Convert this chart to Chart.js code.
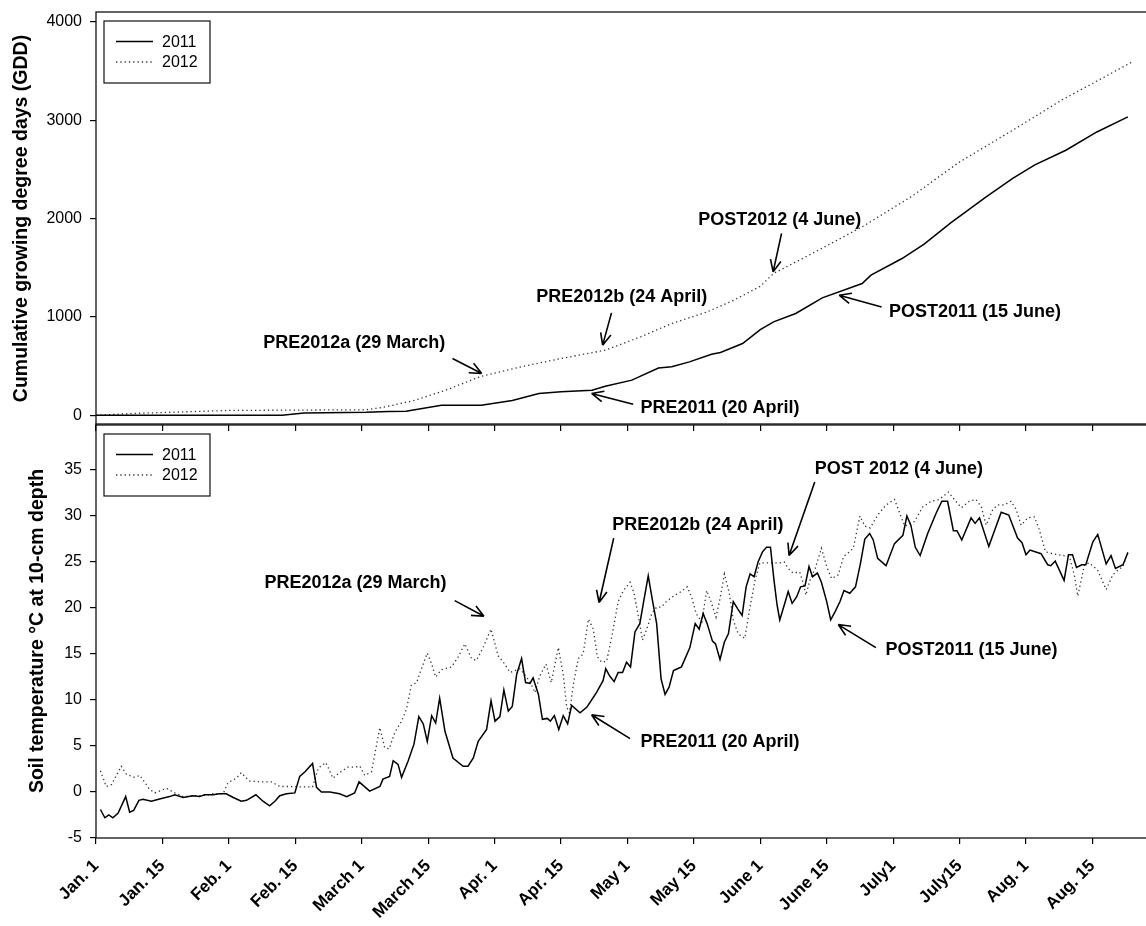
<!DOCTYPE html>
<html>
<head>
<meta charset="utf-8">
<title>Cumulative GDD and soil temperature, 2011 vs 2012</title>
<script src="https://cdn.jsdelivr.net/npm/chart.js@4.4.1/dist/chart.umd.min.js"></script>
<style>
  html, body { margin: 0; padding: 0; background: #fff; overflow: hidden; }
  #wrap { position: relative; width: 1146px; height: 926px; overflow: hidden; }
  canvas { position: absolute; left: 0; top: 0; }
</style>
</head>
<body>
<div id="wrap">
  <canvas id="soil" width="1170" height="926"></canvas>
  <canvas id="gdd" width="1170" height="926"></canvas>
</div>
<script>
// x = day of year (Jan 1 = 0), axis ticks every 15 days
const tickDays = [0, 15, 30, 45, 60, 75, 90, 105, 120, 135, 150, 165, 180, 195, 210, 225];
const tickLabels = ["Jan. 1", "Jan. 15", "Feb. 1", "Feb. 15", "March 1", "March 15", "Apr. 1", "Apr. 15",
  "May 1", "May 15", "June 1", "June 15", "July1", "July15", "Aug. 1", "Aug. 15"];

// cumulative growing degree days
const gdd2011Days = [0, 42, 47, 61, 66, 70, 78, 87, 94, 100, 105, 112, 115, 121, 127, 130, 134, 139, 141, 146,
  150, 153, 158, 164, 173, 175, 182, 187, 193, 201, 207, 212, 219, 226, 233];
const gdd2011 = [0, 0, 22, 30, 38, 40, 100, 102, 150, 220, 237, 254, 295, 356, 480, 492, 542, 620, 637, 729,
  870, 949, 1034, 1193, 1339, 1424, 1593, 1739, 1956, 2220, 2407, 2545, 2694, 2880, 3033];
const gdd2012Days = [0, 10, 30, 61, 64, 67, 72, 79, 87, 96, 105, 115, 123, 130, 138, 144, 150, 153, 161, 173,
  184, 195, 207, 218, 225, 234];
const gdd2012 = [0, 20, 48, 55, 74, 100, 152, 254, 396, 492, 576, 661, 797, 932, 1050, 1169, 1310, 1441, 1627, 1915,
  2220, 2575, 2898, 3203, 3373, 3593];

// soil temperature at 10 cm, deg C
const soil2011Days = [1.0, 2.0, 2.9, 3.8, 5.0, 6.7, 7.6, 8.5, 9.7, 10.6, 12.5, 14.8, 16.6, 17.8, 19.7, 21.9, 23.4, 24.5,
  26.4, 27.9, 29.4, 31.0, 32.8, 34.0, 36.1, 37.7, 39.2, 40.4, 41.5, 43.0, 44.9, 46.0, 47.2, 48.9, 49.8, 50.9, 52.8,
  55.0, 56.6, 58.4, 59.4, 61.8, 64.1, 64.8, 66.3, 67.1, 68.2, 69.0, 70.5, 71.8, 72.9, 73.9, 74.8, 75.8, 76.7, 77.6,
  78.8, 80.6, 82.9, 84.0, 85.2, 86.3, 88.2, 89.2, 90.1, 91.2, 92.1, 93.1, 94.0, 95.0, 96.1, 97.0, 98.0, 98.7, 99.9,
  100.8, 101.9, 102.6, 103.5, 104.5, 105.5, 106.5, 107.4, 109.3, 110.8, 111.5, 113.0, 114.5, 115.1, 116.0, 117.0,
  117.9, 118.9, 119.8, 120.7, 121.7, 122.8, 123.7, 124.7, 125.7, 126.6, 127.6, 128.5, 129.4, 130.4, 131.3, 132.2,
  134.1, 135.3, 136.2, 137.1, 138.0, 139.2, 139.9, 140.9, 141.9, 142.8, 143.9, 144.9, 145.9, 146.8, 147.7, 148.6,
  149.5, 150.5, 151.4, 152.3, 153.1, 153.8, 154.4, 155.4, 156.3, 157.2, 158.2, 159.1, 160.1, 161.0, 161.8, 162.9,
  163.8, 165.0, 165.9, 166.9, 168.0, 168.9, 170.2, 171.5, 172.6, 173.6, 174.7, 175.5, 176.5, 178.4, 180.3, 182.2,
  183.1, 184.0, 185.0, 186.1, 187.8, 189.7, 191.0, 192.3, 193.6, 194.4, 195.5, 197.6, 198.5, 199.5, 201.6, 204.4,
  206.1, 208.1, 209.1, 210.0, 210.9, 213.4, 214.9, 215.6, 216.6, 218.6, 219.6, 220.5, 221.4, 222.6, 223.5, 225.1,
  226.2, 228.1, 229.2, 230.2, 231.9, 233.0];
const soil2011 = [-1.9, -2.8, -2.5, -2.8, -2.3, -0.5, -2.2, -2.0, -0.9, -0.8, -1.0, -0.7, -0.5, -0.3, -0.6, -0.4, -0.5, -0.3,
  -0.3, -0.2, -0.2, -0.6, -1.0, -0.9, -0.3, -1.0, -1.5, -1.0, -0.4, -0.2, -0.1, 1.7, 2.2, 3.1, 0.5, 0.0, 0.0,
  -0.2, -0.5, -0.1, 1.1, 0.1, 0.6, 1.4, 1.7, 3.4, 3.0, 1.6, 3.4, 5.2, 8.2, 7.4, 5.5, 8.3, 7.5, 10.2,
  6.6, 3.7, 2.8, 2.8, 3.7, 5.5, 6.8, 9.9, 7.7, 8.2, 11.1, 8.8, 9.3, 12.8, 14.5, 11.9, 11.8, 12.4, 10.6,
  7.9, 8.0, 7.7, 8.3, 6.8, 8.3, 7.4, 9.4, 8.6, 9.2, 9.7, 10.8, 12.1, 13.4, 12.6, 12.0,
  13.0, 13.0, 14.1, 13.6, 17.4, 18.3, 20.8, 23.5, 20.7, 18.3, 12.3, 10.6, 11.4, 13.2, 13.4, 13.6,
  15.7, 18.3, 17.7, 19.4, 18.3, 16.4, 16.1, 14.4, 16.3, 17.2, 20.7, 19.9, 19.2, 22.3, 23.7, 23.4,
  25.0, 26.1, 26.6, 26.6, 23.0, 20.3, 18.7, 20.3, 21.8, 20.5, 21.2, 22.3, 22.4, 24.5, 23.4, 23.8,
  22.8, 20.7, 18.7, 19.6, 20.7, 21.9, 21.6, 22.3, 24.8, 27.5, 28.1, 27.4, 25.4, 24.6, 27.0, 27.9,
  30.0, 29.0, 26.6, 25.7, 28.1, 30.3, 31.6, 31.6, 28.4, 28.4, 27.4, 29.8, 29.2, 29.8, 26.7, 30.4,
  30.1, 27.6, 27.1, 25.8, 26.3, 25.9, 24.7, 24.6, 25.1, 23.0, 25.8, 25.8, 24.4, 24.7, 24.7, 27.2,
  28.0, 24.8, 25.7, 24.3, 24.7, 26.0];

const soil2012Days = [1.0, 2.3, 3.5, 5.7, 6.9, 8.7, 9.9, 12.1, 13.3, 15.9, 17.8, 19.7, 21.9, 24.2, 26.4, 28.7, 29.8,
  31.7, 32.8, 34.6, 37.0, 39.6, 41.5, 43.7, 46.8, 48.9, 50.2, 51.9, 53.5, 55.0, 56.8, 58.5, 59.6, 60.7, 62.2, 64.1,
  65.2, 66.2, 67.5, 69.0, 70.1, 71.2, 72.4, 73.5, 74.8, 75.8, 76.7, 78.0, 80.3, 81.8, 83.3, 84.8, 85.9, 87.4, 89.2,
  90.8, 92.3, 93.5, 95.7, 97.2, 98.3, 99.1, 100.2, 101.6, 102.8, 104.4, 105.5, 106.3, 106.9, 107.8, 108.9, 110.0,
  111.2, 112.3, 113.2, 114.2, 115.3, 116.6, 117.9, 119.1, 120.6, 121.5, 122.5, 123.4, 124.3, 125.5, 126.6, 127.7,
  128.8, 130.4, 132.2, 133.5, 134.5, 135.5, 136.8, 137.9, 138.8, 140.0, 140.9, 141.9, 143.0, 143.9, 145.0, 146.5,
  147.5, 148.8, 149.9, 151.4, 152.9, 154.4, 155.4, 156.3, 157.4, 158.9, 159.7, 160.3, 161.2, 162.4, 163.8, 165.0,
  166.1, 167.6, 168.8, 170.1, 171.0, 172.5, 173.6, 174.8, 176.5, 178.4, 180.3, 182.6, 184.8, 186.7, 188.6, 190.4,
  192.5, 193.8, 195.4, 197.2, 198.7, 199.9, 201.0, 202.5, 203.6, 205.1, 206.6, 207.8, 208.9, 210.4, 211.9, 213.0,
  214.4, 216.0, 218.3, 219.8, 220.9, 221.7, 223.2, 224.3, 226.2, 228.1, 229.6, 230.7, 231.9, 233.0];
const soil2012 = [2.3, 0.6, 0.8, 2.8, 1.9, 1.6, 1.8, 0.3, -0.1, 0.4, -0.1, -0.5, -0.4, -0.4, -0.2, -0.2, 1.0,
  1.5, 2.1, 1.2, 1.1, 1.1, 0.6, 0.6, 0.55, 0.55, 2.6, 3.2, 1.5, 2.1, 2.7, 2.7, 2.8, 1.8, 2.2, 7.0,
  4.8, 4.7, 6.5, 7.7, 9.0, 11.6, 11.9, 13.4, 15.1, 13.9, 12.5, 13.3, 13.6, 14.7, 16.1, 14.5, 14.3, 15.7, 17.7,
  14.8, 13.9, 13.0, 13.4, 12.5, 11.7, 10.8, 12.6, 13.9, 11.9, 15.7, 12.8, 9.2, 8.6, 11.7, 14.5, 15.0,
  18.8, 17.7, 14.7, 14.1, 14.2, 17.2, 20.7, 21.9, 22.8, 21.6, 19.0, 16.5, 17.6, 19.4, 20.1, 20.1,
  20.7, 21.3, 21.8, 22.3, 21.2, 19.4, 18.5, 21.9, 20.8, 19.0, 21.0, 23.7, 21.6, 18.7, 17.2, 16.7,
  19.6, 23.0, 24.9, 24.9, 24.9, 24.9, 25.0, 24.3, 23.8, 23.9, 22.7, 21.4, 23.0, 24.3, 26.5, 24.5,
  23.2, 23.6, 25.6, 26.1, 26.5, 30.0, 28.9, 28.7, 30.1, 31.2, 31.8, 28.9, 29.4, 31.0, 31.6, 31.8,
  32.6, 31.8, 30.9, 31.6, 31.8, 31.0, 29.0, 30.7, 31.2, 31.2, 31.6, 30.7, 29.0, 29.8, 29.9, 28.5,
  26.1, 25.9, 25.7, 25.6, 23.6, 21.3, 24.7, 24.9, 24.1, 22.0, 23.6, 24.1, 24.5, 26.1];

// planting-date labels: text centre and arrow tail/head, in data units
const gddNotes = [
  { text: "PRE2012a (29 March)", at: [58.3, 732], from: [80.5, 577], to: [87.1, 424] },
  { text: "PRE2012b (24 April)", at: [118.7, 1200], from: [116.4, 1040], to: [114.4, 712] },
  { text: "POST2012 (4 June)", at: [154.4, 1983], from: [154.8, 1848], to: [152.9, 1457] },
  { text: "POST2011 (15 June)", at: [198.5, 1044], from: [177.4, 1101], to: [167.8, 1220] },
  { text: "PRE2011 (20 April)", at: [140.9, 68], from: [121.3, 112], to: [111.9, 221] },
];
const soilNotes = [
  { text: "PRE2012a (29 March)", at: [58.6, 22.7], from: [81.0, 20.8], to: [87.6, 19.1] },
  { text: "PRE2012b (24 April)", at: [135.9, 29.0], from: [116.9, 27.6], to: [113.6, 20.6] },
  { text: "POST 2012 (4 June)", at: [181.3, 35.1], from: [162.3, 33.7], to: [156.5, 25.7] },
  { text: "POST2011 (15 June)", at: [197.7, 15.4], from: [176.1, 15.7], to: [167.6, 18.2] },
  { text: "PRE2011 (20 April)", at: [140.9, 5.4], from: [120.6, 5.8], to: [111.9, 8.4] },
];

const FONT = '"Liberation Sans", Arial, Helvetica, sans-serif';
const pts = (days, vals) => days.map((d, i) => ({ x: d, y: vals[i] }));

const series = (a, b) => [
  { label: "2011", data: a, borderColor: "#000", borderWidth: 1.5, pointRadius: 0, tension: 0, fill: false },
  { label: "2012", data: b, borderColor: "#333", borderWidth: 1.3, borderDash: [1.3, 3], pointRadius: 0, tension: 0, fill: false },
];

// box round the plot area
const frame = {
  id: "frame",
  afterDatasetsDraw(chart) {
    const a = chart.chartArea, c = chart.ctx;
    c.save();
    c.strokeStyle = "#111";
    c.lineWidth = 1.3;
    c.strokeRect(a.left, a.top, a.right - a.left, a.bottom - a.top);
    c.restore();
  },
};

// boxed legend in the top-left corner
function boxLegend(dy) {
  return {
    id: "boxLegend",
    afterDraw(chart) {
      const a = chart.chartArea, c = chart.ctx;
      const x = a.left + 8, y = a.top + dy;
      c.save();
      c.strokeStyle = "#111";
      c.lineWidth = 1.2;
      c.strokeRect(x, y, 106, 62);
      chart.data.datasets.forEach((ds, i) => {
        const ly = y + 20.5 + i * 20.5;
        c.beginPath();
        c.setLineDash(ds.borderDash || []);
        c.strokeStyle = ds.borderColor;
        c.lineWidth = ds.borderWidth;
        c.moveTo(x + 12, ly);
        c.lineTo(x + 49, ly);
        c.stroke();
        c.setLineDash([]);
        c.fillStyle = "#000";
        c.font = "16px " + FONT;
        c.textAlign = "left";
        c.textBaseline = "middle";
        c.fillText(ds.label, x + 58, ly + 1);
      });
      c.restore();
    },
  };
}

// text labels with open arrows
function notesPlugin(notes) {
  return {
    id: "notes",
    afterDatasetsDraw(chart) {
      const xs = chart.scales.x, ys = chart.scales.y, c = chart.ctx;
      const px = (p) => [xs.getPixelForValue(p[0]), ys.getPixelForValue(p[1])];
      c.save();
      c.fillStyle = "#000";
      c.strokeStyle = "#000";
      c.lineWidth = 1.6;
      c.font = "bold 18px " + FONT;
      c.textAlign = "center";
      c.textBaseline = "middle";
      notes.forEach((n) => {
        const [tx, ty] = px(n.at);
        c.fillText(n.text, tx, ty);
        const [x0, y0] = px(n.from), [x1, y1] = px(n.to);
        const ang = Math.atan2(y1 - y0, x1 - x0);
        c.beginPath();
        c.moveTo(x0, y0);
        c.lineTo(x1, y1);
        for (const s of [-1, 1]) {
          c.moveTo(x1, y1);
          c.lineTo(x1 - 13 * Math.cos(ang + s * 0.42), y1 - 13 * Math.sin(ang + s * 0.42));
        }
        c.stroke();
      });
      c.restore();
    },
  };
}

const axisGrid = { drawOnChartArea: false, drawTicks: true, tickLength: 6, color: "#000", lineWidth: 1.2 };

function xAxis(showLabels, height) {
  return {
    type: "linear",
    min: 0,
    max: 238,
    afterBuildTicks: (s) => { s.ticks = tickDays.map((v) => ({ value: v })); },
    afterFit: (s) => { s.height = height; s.paddingLeft = 0; s.paddingRight = 0; },
    border: { display: false },
    grid: axisGrid,
    ticks: {
      autoSkip: false,
      minRotation: showLabels ? 45 : 0,
      maxRotation: showLabels ? 45 : 0,
      padding: 12,
      color: "#000",
      font: { family: FONT, size: 17, weight: "bold" },
      callback: (v, i) => (showLabels ? tickLabels[i] : ""),
    },
  };
}

function yAxis(min, max, ticks, title, titlePad) {
  return {
    type: "linear",
    min,
    max,
    afterBuildTicks: (s) => { s.ticks = ticks.map((v) => ({ value: v })); },
    // fixed axis width, and no extra room reserved above/below for the end labels
    afterFit: (s) => { s.width = 96; s.paddingTop = 0; s.paddingBottom = 0; },
    border: { display: false },
    grid: axisGrid,
    ticks: { color: "#000", padding: 8, font: { family: FONT, size: 16 }, callback: (v) => String(v) },
    title: {
      display: true,
      text: title,
      color: "#000",
      padding: { top: titlePad, bottom: 0 },
      font: { family: FONT, size: 19.5, weight: "bold" },
    },
  };
}

const common = {
  responsive: false,
  animation: false,
  devicePixelRatio: 1,
  plugins: { legend: { display: false }, tooltip: { enabled: false } },
};

new Chart(document.getElementById("gdd"), {
  type: "line",
  data: { datasets: series(pts(gdd2011Days, gdd2011), pts(gdd2012Days, gdd2012)) },
  options: {
    ...common,
    layout: { autoPadding: false, padding: { left: 0, right: 20, top: 12, bottom: 926 - 425 - 10 } },
    scales: {
      x: xAxis(false, 10),
      y: yAxis(-100, 4100, [0, 1000, 2000, 3000, 4000], "Cumulative growing degree days (GDD)", 10),
    },
  },
  plugins: [frame, boxLegend(9), notesPlugin(gddNotes)],
});

new Chart(document.getElementById("soil"), {
  type: "line",
  data: { datasets: series(pts(soil2011Days, soil2011), pts(soil2012Days, soil2012)) },
  options: {
    ...common,
    layout: { autoPadding: false, padding: { left: 0, right: 20, top: 424, bottom: 0 } },
    scales: {
      x: xAxis(true, 88),
      y: yAxis(-5, 40, [-5, 0, 5, 10, 15, 20, 25, 30, 35], "Soil temperature °C at 10-cm depth", 26),
    },
  },
  plugins: [frame, boxLegend(10), notesPlugin(soilNotes)],
});
</script>
</body>
</html>
